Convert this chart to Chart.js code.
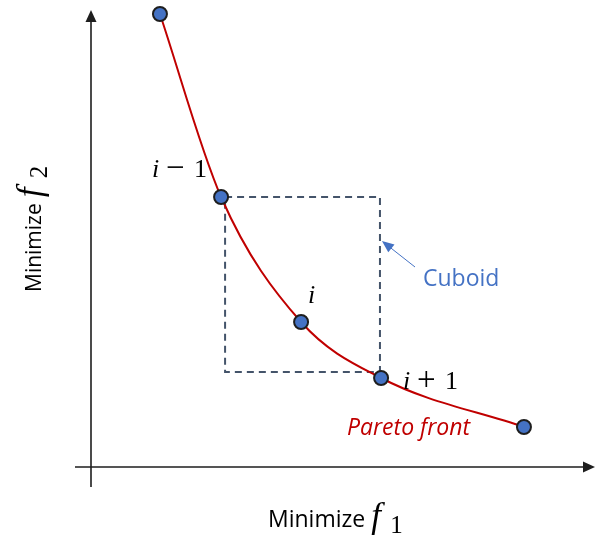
<!DOCTYPE html>
<html>
<head>
<meta charset="utf-8">
<script src="https://cdn.jsdelivr.net/npm/chart.js@4"></script>
<style>
  html, body { margin: 0; padding: 0; background: #fff; }
  #wrap { width: 595px; height: 539px; }
</style>
</head>
<body>
<div id="wrap"><canvas id="paretoChart" width="595" height="539"></canvas></div>
<script>
// ─── DATA ──────────────────────────────────────────────────
const paretoX = [4.31, 8.13, 13.13, 18.13, 27.06];
const paretoY = [22.65, 13.5, 7.25, 4.45, 2.0];
const pointLabels = ['', 'i − 1', 'i', 'i + 1', ''];

const cuboidX = [8.38, 18.06, 18.06, 8.38, 8.38];
const cuboidY = [13.5, 13.5, 4.75, 4.75, 13.5];

const xRange = [-1, 31.5];
const yRange = [-1, 22.85];

const BLUE = '#4472C4';
const RED  = '#C00000';
const AXIS = '#1e1e1e';

const zip = (xs, ys) => xs.map((x, i) => ({ x, y: ys[i] }));

// label offsets from the point centre (left edge, baseline)
const labelOffsets = { 1: [-69, -20], 2: [7, -19], 3: [22, 11] };

// ─── AXES + ANNOTATIONS ────────────────────────────────────
const decorPlugin = {
  id: 'decor',
  beforeDatasetsDraw(chart) {
    const { ctx, chartArea: a, scales: { x, y } } = chart;
    const x0 = x.getPixelForValue(0);
    const y0 = y.getPixelForValue(0);
    ctx.save();
    ctx.strokeStyle = AXIS;
    ctx.lineWidth = 1.6;
    ctx.beginPath();
    ctx.moveTo(x0, a.bottom); ctx.lineTo(x0, a.top + 6);
    ctx.moveTo(a.left, y0);   ctx.lineTo(a.right - 6, y0);
    ctx.stroke();
    ctx.fillStyle = AXIS;
    ctx.beginPath();
    ctx.moveTo(x0, a.top); ctx.lineTo(x0 - 5.5, a.top + 12); ctx.lineTo(x0 + 5.5, a.top + 12);
    ctx.closePath(); ctx.fill();
    ctx.beginPath();
    ctx.moveTo(a.right, y0); ctx.lineTo(a.right - 12, y0 - 5.5); ctx.lineTo(a.right - 12, y0 + 5.5);
    ctx.closePath(); ctx.fill();
    ctx.restore();
  },
  afterDraw(chart) {
    const { ctx, scales: { x } } = chart;
    ctx.save();

    // point labels i-1, i, i+1
    const meta = chart.getDatasetMeta(2);
    ctx.fillStyle = '#000';
    ctx.textBaseline = 'alphabetic';
    pointLabels.forEach((lab, idx) => {
      if (!lab) return;
      const el = meta.data[idx];
      const [dx, dy] = labelOffsets[idx];
      const lx = el.x + dx, ly = el.y + dy;
      const parts = lab.split(' ');
      ctx.font = 'italic 26px "Liberation Serif"';
      ctx.fillText(parts[0], lx, ly);
      if (parts.length > 1) {
        ctx.font = '33px "Liberation Serif"';
        ctx.fillText(parts[1], lx + 14, ly + 1);
        ctx.font = '26px "Liberation Serif"';
        ctx.fillText(parts[2], lx + 42, ly);
      }
    });

    // Cuboid arrow + text
    const rx = x.getPixelForValue(cuboidX[1]);
    const tipX = rx + 2, tipY = 241, tailX = 415, tailY = 267;
    const ang = Math.atan2(tailY - tipY, tailX - tipX);
    ctx.strokeStyle = BLUE; ctx.fillStyle = BLUE; ctx.lineWidth = 1;
    ctx.beginPath(); ctx.moveTo(tailX, tailY); ctx.lineTo(tipX + 8 * Math.cos(ang), tipY + 8 * Math.sin(ang)); ctx.stroke();
    ctx.beginPath();
    ctx.moveTo(tipX, tipY);
    ctx.lineTo(tipX + 12 * Math.cos(ang) - 5 * Math.sin(ang), tipY + 12 * Math.sin(ang) + 5 * Math.cos(ang));
    ctx.lineTo(tipX + 12 * Math.cos(ang) + 5 * Math.sin(ang), tipY + 12 * Math.sin(ang) - 5 * Math.cos(ang));
    ctx.closePath(); ctx.fill();
    ctx.font = '23px "Open Sans"';
    ctx.fillText('Cuboid', 423, 286);

    // Pareto front
    ctx.fillStyle = RED;
    ctx.font = 'italic 23px "Open Sans"';
    ctx.fillText('Pareto front', 347, 435);

    // axis titles
    ctx.fillStyle = '#000';
    ctx.font = '23px "Open Sans"';
    ctx.fillText('Minimize', 268, 527);
    let w = ctx.measureText('Minimize').width;
    ctx.font = 'italic 35px "Liberation Serif"';
    ctx.fillText('f', 268 + w + 6, 527);
    ctx.font = '25px "Liberation Serif"';
    ctx.fillText('1', 268 + w + 25, 533);

    ctx.translate(41, 292);
    ctx.rotate(-Math.PI / 2);
    ctx.font = '21px "Open Sans"';
    ctx.fillText('Minimize', 0, 0);
    w = ctx.measureText('Minimize').width;
    ctx.font = 'italic 35px "Liberation Serif"';
    ctx.fillText('f', w + 6, 0);
    ctx.font = '25px "Liberation Serif"';
    ctx.fillText('2', w + 25, 6);
    ctx.restore();
  }
};

// ─── CHART ─────────────────────────────────────────────────
new Chart(document.getElementById('paretoChart'), {
  type: 'scatter',
  data: {
    datasets: [
      {
        label: 'Cuboid',
        data: zip(cuboidX, cuboidY),
        showLine: true,
        borderColor: '#44546A',
        borderWidth: 2,
        borderDash: [7, 5],
        pointRadius: 0,
        tension: 0,
        order: 3,
      },
      {
        label: 'Pareto front',
        data: zip(paretoX, paretoY),
        showLine: true,
        borderColor: RED,
        borderWidth: 2,
        pointRadius: 0,
        cubicInterpolationMode: 'monotone',
        order: 2,
      },
      {
        label: 'Solutions',
        data: zip(paretoX, paretoY),
        pointRadius: 7,
        pointBackgroundColor: BLUE,
        pointBorderColor: AXIS,
        pointBorderWidth: 2,
        clip: false,
        order: 1,
      },
    ],
  },
  options: {
    responsive: false,
    animation: false,
    events: [],
    layout: { autoPadding: false, padding: { left: 75, right: 0, top: 10, bottom: 52 } },
    plugins: { legend: { display: false }, tooltip: { enabled: false } },
    scales: {
      x: { type: 'linear', min: xRange[0], max: xRange[1], display: false },
      y: { type: 'linear', min: yRange[0], max: yRange[1], display: false },
    },
  },
  plugins: [decorPlugin],
});
</script>
</body>
</html>
